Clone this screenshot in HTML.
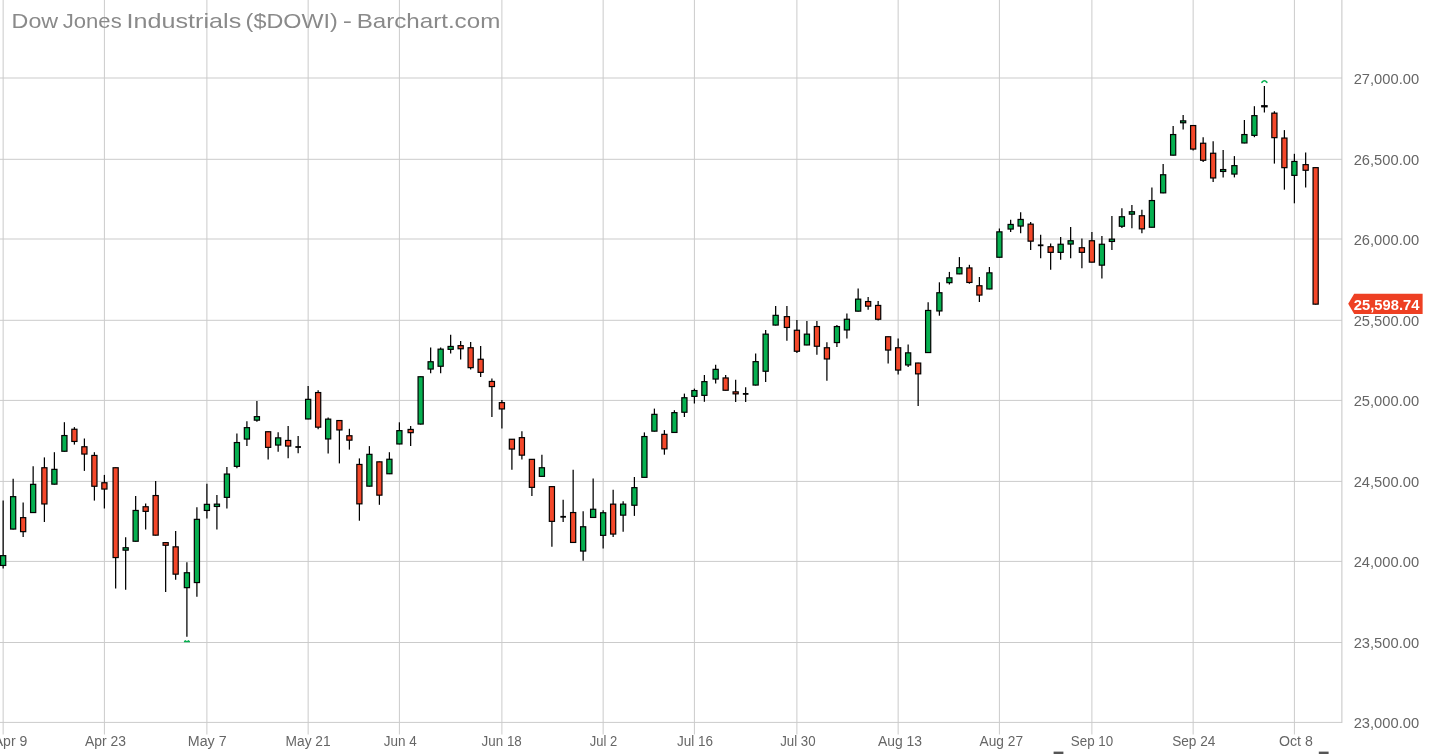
<!DOCTYPE html>
<html lang="en"><head><meta charset="utf-8"><title>Dow Jones Industrials ($DOWI) - Barchart.com</title>
<style>html,body{margin:0;padding:0;background:#fff;overflow:hidden}svg{display:block}text{font-family:"Liberation Sans","DejaVu Sans",sans-serif}</style></head><body>
<svg width="1430" height="754" viewBox="0 0 1430 754">
<rect width="1430" height="754" fill="#fff"/>
<g stroke="#cbcbcb" stroke-width="1" fill="none">
<line x1="0" y1="78.0" x2="1341.9" y2="78.0"/>
<line x1="0" y1="159.3" x2="1341.9" y2="159.3"/>
<line x1="0" y1="239.0" x2="1341.9" y2="239.0"/>
<line x1="0" y1="320.3" x2="1341.9" y2="320.3"/>
<line x1="0" y1="400.4" x2="1341.9" y2="400.4"/>
<line x1="0" y1="481.4" x2="1341.9" y2="481.4"/>
<line x1="0" y1="561.4" x2="1341.9" y2="561.4"/>
<line x1="0" y1="642.5" x2="1341.9" y2="642.5"/>
<line x1="0" y1="722.4" x2="1341.9" y2="722.4"/>
<line x1="3.15" y1="0" x2="3.15" y2="734.5"/>
<line x1="104.4" y1="0" x2="104.4" y2="734.5"/>
<line x1="206.9" y1="0" x2="206.9" y2="734.5"/>
<line x1="308.15" y1="0" x2="308.15" y2="734.5"/>
<line x1="399.4" y1="0" x2="399.4" y2="734.5"/>
<line x1="501.9" y1="0" x2="501.9" y2="734.5"/>
<line x1="603.15" y1="0" x2="603.15" y2="734.5"/>
<line x1="694.4" y1="0" x2="694.4" y2="734.5"/>
<line x1="796.9" y1="0" x2="796.9" y2="734.5"/>
<line x1="898.15" y1="0" x2="898.15" y2="734.5"/>
<line x1="999.4" y1="0" x2="999.4" y2="734.5"/>
<line x1="1091.9" y1="0" x2="1091.9" y2="734.5"/>
<line x1="1193.15" y1="0" x2="1193.15" y2="734.5"/>
<line x1="1294.4" y1="0" x2="1294.4" y2="734.5"/>
<line x1="1341.9" y1="0" x2="1341.9" y2="722.9" stroke="#c4c4c4"/>
</g>
<g font-size="21" fill="#8a8a8a">
<text x="11.61" y="28.3" textLength="46.58" lengthAdjust="spacingAndGlyphs">Dow</text>
<text x="62.70" y="28.3" textLength="59.02" lengthAdjust="spacingAndGlyphs">Jones</text>
<text x="126.62" y="28.3" textLength="114.60" lengthAdjust="spacingAndGlyphs">Industrials</text>
<text x="245.62" y="28.3" textLength="92.16" lengthAdjust="spacingAndGlyphs">($DOWI)</text>
<text x="342.78" y="28.3" textLength="9.21" lengthAdjust="spacingAndGlyphs">-</text>
<text x="356.65" y="28.3" textLength="143.61" lengthAdjust="spacingAndGlyphs">Barchart.com</text>
</g>
<g stroke="#000" stroke-width="1.2">
<line x1="3.15" y1="500.6" x2="3.15" y2="568.4" stroke-width="1.25"/>
<rect x="0.57" y="555.65" width="5.16" height="9.8" fill="#06b050"/>
<line x1="13.15" y1="478.8" x2="13.15" y2="529.4" stroke-width="1.25"/>
<rect x="10.57" y="496.65" width="5.16" height="32.4" fill="#06b050"/>
<line x1="23.15" y1="502.4" x2="23.15" y2="536.9" stroke-width="1.25"/>
<rect x="20.57" y="517.65" width="5.16" height="14.0" fill="#f4482a"/>
<line x1="33.15" y1="466.2" x2="33.15" y2="512.9" stroke-width="1.25"/>
<rect x="30.57" y="484.35" width="5.16" height="28.2" fill="#06b050"/>
<line x1="44.40" y1="457.4" x2="44.40" y2="522.0" stroke-width="1.25"/>
<rect x="41.82" y="467.75" width="5.16" height="36.2" fill="#f4482a"/>
<line x1="54.40" y1="452.2" x2="54.40" y2="484.5" stroke-width="1.25"/>
<rect x="51.82" y="469.35" width="5.16" height="14.8" fill="#06b050"/>
<line x1="64.40" y1="422.2" x2="64.40" y2="451.6" stroke-width="1.25"/>
<rect x="61.82" y="435.55" width="5.16" height="15.7" fill="#06b050"/>
<line x1="74.40" y1="427.1" x2="74.40" y2="444.6" stroke-width="1.25"/>
<rect x="71.82" y="429.25" width="5.16" height="12.2" fill="#f4482a"/>
<line x1="84.40" y1="438.5" x2="84.40" y2="470.9" stroke-width="1.25"/>
<rect x="81.82" y="446.75" width="5.16" height="7.3" fill="#f4482a"/>
<line x1="94.40" y1="452.2" x2="94.40" y2="500.6" stroke-width="1.25"/>
<rect x="91.82" y="455.45" width="5.16" height="30.8" fill="#f4482a"/>
<line x1="104.40" y1="474.9" x2="104.40" y2="508.5" stroke-width="1.25"/>
<rect x="101.82" y="482.75" width="5.16" height="6.3" fill="#f4482a"/>
<line x1="115.65" y1="467.4" x2="115.65" y2="588.5" stroke-width="1.25"/>
<rect x="113.07" y="467.75" width="5.16" height="89.8" fill="#f4482a"/>
<line x1="125.65" y1="537.2" x2="125.65" y2="589.8" stroke-width="1.25"/>
<rect x="123.07" y="547.75" width="5.16" height="2.4" fill="#06b050"/>
<line x1="135.65" y1="495.9" x2="135.65" y2="541.6" stroke-width="1.25"/>
<rect x="133.07" y="510.45" width="5.16" height="30.8" fill="#06b050"/>
<line x1="145.65" y1="503.4" x2="145.65" y2="529.5" stroke-width="1.25"/>
<rect x="143.07" y="506.75" width="5.16" height="4.6" fill="#f4482a"/>
<line x1="155.65" y1="481.0" x2="155.65" y2="535.5" stroke-width="1.25"/>
<rect x="153.07" y="495.55" width="5.16" height="39.6" fill="#f4482a"/>
<line x1="165.65" y1="542.3" x2="165.65" y2="592.0" stroke-width="1.25"/>
<rect x="163.07" y="542.65" width="5.16" height="2.6" fill="#f4482a"/>
<line x1="175.65" y1="531.1" x2="175.65" y2="579.8" stroke-width="1.25"/>
<rect x="173.07" y="546.85" width="5.16" height="27.3" fill="#f4482a"/>
<line x1="186.90" y1="562.3" x2="186.90" y2="636.7" stroke-width="1.25"/>
<rect x="184.32" y="572.75" width="5.16" height="14.9" fill="#06b050"/>
<line x1="196.90" y1="507.3" x2="196.90" y2="596.8" stroke-width="1.25"/>
<rect x="194.32" y="519.35" width="5.16" height="63.2" fill="#06b050"/>
<line x1="206.90" y1="483.7" x2="206.90" y2="518.5" stroke-width="1.25"/>
<rect x="204.32" y="504.35" width="5.16" height="6.1" fill="#06b050"/>
<line x1="216.90" y1="495.0" x2="216.90" y2="529.5" stroke-width="1.25"/>
<rect x="214.32" y="504.15" width="5.16" height="2.3" fill="#06b050"/>
<line x1="226.90" y1="467.0" x2="226.90" y2="508.5" stroke-width="1.25"/>
<rect x="224.32" y="474.05" width="5.16" height="23.3" fill="#06b050"/>
<line x1="236.90" y1="433.4" x2="236.90" y2="468.3" stroke-width="1.25"/>
<rect x="234.32" y="442.55" width="5.16" height="23.8" fill="#06b050"/>
<line x1="246.90" y1="421.2" x2="246.90" y2="446.0" stroke-width="1.25"/>
<rect x="244.32" y="427.65" width="5.16" height="11.4" fill="#06b050"/>
<line x1="256.90" y1="400.9" x2="256.90" y2="421.8" stroke-width="1.25"/>
<rect x="254.32" y="416.65" width="5.16" height="3.5" fill="#06b050"/>
<line x1="268.15" y1="431.4" x2="268.15" y2="459.6" stroke-width="1.25"/>
<rect x="265.57" y="431.75" width="5.16" height="15.6" fill="#f4482a"/>
<line x1="278.15" y1="432.3" x2="278.15" y2="451.7" stroke-width="1.25"/>
<rect x="275.57" y="437.85" width="5.16" height="7.2" fill="#06b050"/>
<line x1="288.15" y1="426.1" x2="288.15" y2="458.3" stroke-width="1.25"/>
<rect x="285.57" y="440.45" width="5.16" height="5.6" fill="#f4482a"/>
<line x1="298.15" y1="436.1" x2="298.15" y2="453.3" stroke-width="1.25"/>
<rect x="295.35" y="446.1" width="5.6" height="1.8" fill="#000" stroke="none"/>
<line x1="308.15" y1="386.0" x2="308.15" y2="419.3" stroke-width="1.25"/>
<rect x="305.57" y="399.35" width="5.16" height="19.6" fill="#06b050"/>
<line x1="318.15" y1="390.2" x2="318.15" y2="429.3" stroke-width="1.25"/>
<rect x="315.57" y="392.55" width="5.16" height="34.6" fill="#f4482a"/>
<line x1="328.15" y1="417.4" x2="328.15" y2="453.4" stroke-width="1.25"/>
<rect x="325.57" y="419.15" width="5.16" height="19.8" fill="#06b050"/>
<line x1="339.40" y1="420.2" x2="339.40" y2="463.4" stroke-width="1.25"/>
<rect x="336.82" y="420.55" width="5.16" height="9.4" fill="#f4482a"/>
<line x1="349.40" y1="428.8" x2="349.40" y2="449.6" stroke-width="1.25"/>
<rect x="346.82" y="435.75" width="5.16" height="4.4" fill="#f4482a"/>
<line x1="359.40" y1="458.4" x2="359.40" y2="520.7" stroke-width="1.25"/>
<rect x="356.82" y="464.45" width="5.16" height="39.4" fill="#f4482a"/>
<line x1="369.40" y1="446.1" x2="369.40" y2="486.5" stroke-width="1.25"/>
<rect x="366.82" y="454.35" width="5.16" height="31.8" fill="#06b050"/>
<line x1="379.40" y1="461.5" x2="379.40" y2="504.8" stroke-width="1.25"/>
<rect x="376.82" y="461.85" width="5.16" height="33.3" fill="#f4482a"/>
<line x1="389.40" y1="452.2" x2="389.40" y2="474.1" stroke-width="1.25"/>
<rect x="386.82" y="459.25" width="5.16" height="14.5" fill="#06b050"/>
<line x1="399.40" y1="422.3" x2="399.40" y2="444.3" stroke-width="1.25"/>
<rect x="396.82" y="430.65" width="5.16" height="13.3" fill="#06b050"/>
<line x1="410.65" y1="426.1" x2="410.65" y2="445.9" stroke-width="1.25"/>
<rect x="408.07" y="429.45" width="5.16" height="3.2" fill="#f4482a"/>
<line x1="420.65" y1="376.4" x2="420.65" y2="424.4" stroke-width="1.25"/>
<rect x="418.07" y="376.75" width="5.16" height="47.3" fill="#06b050"/>
<line x1="430.65" y1="347.4" x2="430.65" y2="373.3" stroke-width="1.25"/>
<rect x="428.07" y="361.75" width="5.16" height="7.3" fill="#06b050"/>
<line x1="440.65" y1="347.4" x2="440.65" y2="373.3" stroke-width="1.25"/>
<rect x="438.07" y="349.15" width="5.16" height="17.1" fill="#06b050"/>
<line x1="450.65" y1="334.8" x2="450.65" y2="353.5" stroke-width="1.25"/>
<rect x="448.07" y="346.45" width="5.16" height="2.9" fill="#06b050"/>
<line x1="460.65" y1="340.9" x2="460.65" y2="359.6" stroke-width="1.25"/>
<rect x="458.07" y="345.65" width="5.16" height="3.1" fill="#f4482a"/>
<line x1="470.65" y1="342.1" x2="470.65" y2="369.4" stroke-width="1.25"/>
<rect x="468.07" y="347.75" width="5.16" height="19.9" fill="#f4482a"/>
<line x1="480.65" y1="346.1" x2="480.65" y2="377.1" stroke-width="1.25"/>
<rect x="478.07" y="359.25" width="5.16" height="13.1" fill="#f4482a"/>
<line x1="491.90" y1="378.5" x2="491.90" y2="417.0" stroke-width="1.25"/>
<rect x="489.32" y="381.45" width="5.16" height="5.1" fill="#f4482a"/>
<line x1="501.90" y1="400.0" x2="501.90" y2="428.4" stroke-width="1.25"/>
<rect x="499.32" y="402.65" width="5.16" height="6.3" fill="#f4482a"/>
<line x1="511.90" y1="438.9" x2="511.90" y2="469.7" stroke-width="1.25"/>
<rect x="509.32" y="439.25" width="5.16" height="9.8" fill="#f4482a"/>
<line x1="521.90" y1="431.2" x2="521.90" y2="459.6" stroke-width="1.25"/>
<rect x="519.32" y="437.65" width="5.16" height="17.5" fill="#f4482a"/>
<line x1="531.90" y1="459.0" x2="531.90" y2="495.9" stroke-width="1.25"/>
<rect x="529.32" y="459.35" width="5.16" height="28.0" fill="#f4482a"/>
<line x1="541.90" y1="454.8" x2="541.90" y2="476.7" stroke-width="1.25"/>
<rect x="539.32" y="467.75" width="5.16" height="8.6" fill="#06b050"/>
<line x1="551.90" y1="486.3" x2="551.90" y2="546.7" stroke-width="1.25"/>
<rect x="549.32" y="486.65" width="5.16" height="34.7" fill="#f4482a"/>
<line x1="563.15" y1="499.8" x2="563.15" y2="522.0" stroke-width="1.25"/>
<rect x="560.35" y="515.9" width="5.6" height="1.8" fill="#000" stroke="none"/>
<line x1="573.15" y1="469.8" x2="573.15" y2="542.8" stroke-width="1.25"/>
<rect x="570.57" y="512.55" width="5.16" height="29.9" fill="#f4482a"/>
<line x1="583.15" y1="511.2" x2="583.15" y2="560.7" stroke-width="1.25"/>
<rect x="580.57" y="526.75" width="5.16" height="24.3" fill="#06b050"/>
<line x1="593.15" y1="478.4" x2="593.15" y2="517.8" stroke-width="1.25"/>
<rect x="590.57" y="509.25" width="5.16" height="8.2" fill="#06b050"/>
<line x1="603.15" y1="510.3" x2="603.15" y2="548.4" stroke-width="1.25"/>
<rect x="600.57" y="512.75" width="5.16" height="22.6" fill="#06b050"/>
<line x1="613.15" y1="489.8" x2="613.15" y2="536.9" stroke-width="1.25"/>
<rect x="610.57" y="504.15" width="5.16" height="29.9" fill="#f4482a"/>
<line x1="623.15" y1="501.2" x2="623.15" y2="531.8" stroke-width="1.25"/>
<rect x="620.57" y="504.15" width="5.16" height="11.0" fill="#06b050"/>
<line x1="634.40" y1="477.0" x2="634.40" y2="515.9" stroke-width="1.25"/>
<rect x="631.82" y="487.65" width="5.16" height="17.6" fill="#06b050"/>
<line x1="644.40" y1="432.4" x2="644.40" y2="477.7" stroke-width="1.25"/>
<rect x="641.82" y="436.55" width="5.16" height="40.8" fill="#06b050"/>
<line x1="654.40" y1="408.6" x2="654.40" y2="431.5" stroke-width="1.25"/>
<rect x="651.82" y="414.35" width="5.16" height="16.8" fill="#06b050"/>
<line x1="664.40" y1="430.1" x2="664.40" y2="454.7" stroke-width="1.25"/>
<rect x="661.82" y="434.35" width="5.16" height="14.5" fill="#f4482a"/>
<line x1="674.40" y1="410.2" x2="674.40" y2="432.8" stroke-width="1.25"/>
<rect x="671.82" y="412.65" width="5.16" height="19.8" fill="#06b050"/>
<line x1="684.40" y1="393.6" x2="684.40" y2="417.0" stroke-width="1.25"/>
<rect x="681.82" y="397.75" width="5.16" height="14.5" fill="#06b050"/>
<line x1="694.40" y1="388.6" x2="694.40" y2="403.5" stroke-width="1.25"/>
<rect x="691.82" y="390.55" width="5.16" height="5.8" fill="#06b050"/>
<line x1="704.40" y1="375.0" x2="704.40" y2="401.8" stroke-width="1.25"/>
<rect x="701.82" y="381.65" width="5.16" height="13.7" fill="#06b050"/>
<line x1="715.65" y1="364.7" x2="715.65" y2="383.4" stroke-width="1.25"/>
<rect x="713.07" y="369.35" width="5.16" height="9.7" fill="#06b050"/>
<line x1="725.65" y1="375.0" x2="725.65" y2="390.6" stroke-width="1.25"/>
<rect x="723.07" y="377.95" width="5.16" height="12.3" fill="#f4482a"/>
<line x1="735.65" y1="379.8" x2="735.65" y2="402.0" stroke-width="1.25"/>
<rect x="733.07" y="391.85" width="5.16" height="2.0" fill="#f4482a"/>
<line x1="745.65" y1="387.2" x2="745.65" y2="402.0" stroke-width="1.25"/>
<rect x="742.85" y="393.0" width="5.6" height="1.8" fill="#000" stroke="none"/>
<line x1="755.65" y1="353.6" x2="755.65" y2="385.4" stroke-width="1.25"/>
<rect x="753.07" y="361.65" width="5.16" height="23.4" fill="#06b050"/>
<line x1="765.65" y1="329.9" x2="765.65" y2="382.1" stroke-width="1.25"/>
<rect x="763.07" y="334.15" width="5.16" height="37.1" fill="#06b050"/>
<line x1="775.65" y1="305.9" x2="775.65" y2="325.4" stroke-width="1.25"/>
<rect x="773.07" y="315.35" width="5.16" height="9.7" fill="#06b050"/>
<line x1="786.90" y1="305.9" x2="786.90" y2="340.8" stroke-width="1.25"/>
<rect x="784.32" y="316.65" width="5.16" height="10.8" fill="#f4482a"/>
<line x1="796.90" y1="320.1" x2="796.90" y2="353.0" stroke-width="1.25"/>
<rect x="794.32" y="330.25" width="5.16" height="21.0" fill="#f4482a"/>
<line x1="806.90" y1="321.0" x2="806.90" y2="345.3" stroke-width="1.25"/>
<rect x="804.32" y="334.15" width="5.16" height="10.8" fill="#06b050"/>
<line x1="816.90" y1="321.0" x2="816.90" y2="354.8" stroke-width="1.25"/>
<rect x="814.32" y="326.55" width="5.16" height="19.7" fill="#f4482a"/>
<line x1="826.90" y1="342.2" x2="826.90" y2="380.7" stroke-width="1.25"/>
<rect x="824.32" y="347.75" width="5.16" height="11.2" fill="#f4482a"/>
<line x1="836.90" y1="325.0" x2="836.90" y2="347.1" stroke-width="1.25"/>
<rect x="834.32" y="326.55" width="5.16" height="16.0" fill="#06b050"/>
<line x1="846.90" y1="313.5" x2="846.90" y2="338.5" stroke-width="1.25"/>
<rect x="844.32" y="319.25" width="5.16" height="10.7" fill="#06b050"/>
<line x1="858.15" y1="288.4" x2="858.15" y2="311.5" stroke-width="1.25"/>
<rect x="855.57" y="299.15" width="5.16" height="12.0" fill="#06b050"/>
<line x1="868.15" y1="297.0" x2="868.15" y2="309.8" stroke-width="1.25"/>
<rect x="865.57" y="301.55" width="5.16" height="4.6" fill="#f4482a"/>
<line x1="878.15" y1="300.9" x2="878.15" y2="320.6" stroke-width="1.25"/>
<rect x="875.57" y="305.45" width="5.16" height="13.8" fill="#f4482a"/>
<line x1="888.15" y1="336.4" x2="888.15" y2="363.4" stroke-width="1.25"/>
<rect x="885.57" y="336.75" width="5.16" height="13.3" fill="#f4482a"/>
<line x1="898.15" y1="338.5" x2="898.15" y2="374.6" stroke-width="1.25"/>
<rect x="895.57" y="347.75" width="5.16" height="22.3" fill="#f4482a"/>
<line x1="908.15" y1="344.6" x2="908.15" y2="367.0" stroke-width="1.25"/>
<rect x="905.57" y="352.85" width="5.16" height="12.1" fill="#06b050"/>
<line x1="918.15" y1="362.7" x2="918.15" y2="405.9" stroke-width="1.25"/>
<rect x="915.57" y="363.05" width="5.16" height="10.8" fill="#f4482a"/>
<line x1="928.15" y1="302.3" x2="928.15" y2="352.9" stroke-width="1.25"/>
<rect x="925.57" y="310.45" width="5.16" height="42.1" fill="#06b050"/>
<line x1="939.40" y1="282.3" x2="939.40" y2="315.7" stroke-width="1.25"/>
<rect x="936.82" y="292.75" width="5.16" height="18.2" fill="#06b050"/>
<line x1="949.40" y1="271.9" x2="949.40" y2="284.5" stroke-width="1.25"/>
<rect x="946.82" y="277.85" width="5.16" height="4.8" fill="#06b050"/>
<line x1="959.40" y1="257.1" x2="959.40" y2="274.2" stroke-width="1.25"/>
<rect x="956.82" y="267.75" width="5.16" height="6.1" fill="#06b050"/>
<line x1="969.40" y1="264.8" x2="969.40" y2="283.7" stroke-width="1.25"/>
<rect x="966.82" y="267.95" width="5.16" height="14.5" fill="#f4482a"/>
<line x1="979.40" y1="277.0" x2="979.40" y2="302.0" stroke-width="1.25"/>
<rect x="976.82" y="285.75" width="5.16" height="9.3" fill="#f4482a"/>
<line x1="989.40" y1="267.0" x2="989.40" y2="289.3" stroke-width="1.25"/>
<rect x="986.82" y="272.85" width="5.16" height="16.1" fill="#06b050"/>
<line x1="999.40" y1="228.5" x2="999.40" y2="257.6" stroke-width="1.25"/>
<rect x="996.82" y="231.85" width="5.16" height="25.4" fill="#06b050"/>
<line x1="1010.65" y1="219.8" x2="1010.65" y2="232.0" stroke-width="1.25"/>
<rect x="1008.07" y="224.45" width="5.16" height="4.6" fill="#06b050"/>
<line x1="1020.65" y1="212.2" x2="1020.65" y2="233.2" stroke-width="1.25"/>
<rect x="1018.07" y="219.45" width="5.16" height="6.6" fill="#06b050"/>
<line x1="1030.65" y1="222.0" x2="1030.65" y2="249.9" stroke-width="1.25"/>
<rect x="1028.07" y="224.15" width="5.16" height="17.0" fill="#f4482a"/>
<line x1="1040.65" y1="234.8" x2="1040.65" y2="258.3" stroke-width="1.25"/>
<rect x="1037.85" y="244.4" width="5.6" height="1.8" fill="#000" stroke="none"/>
<line x1="1050.65" y1="243.4" x2="1050.65" y2="269.7" stroke-width="1.25"/>
<rect x="1048.07" y="246.75" width="5.16" height="5.6" fill="#f4482a"/>
<line x1="1060.65" y1="236.9" x2="1060.65" y2="259.7" stroke-width="1.25"/>
<rect x="1058.07" y="244.25" width="5.16" height="8.1" fill="#06b050"/>
<line x1="1070.65" y1="227.1" x2="1070.65" y2="258.3" stroke-width="1.25"/>
<rect x="1068.07" y="240.75" width="5.16" height="3.3" fill="#06b050"/>
<line x1="1081.90" y1="238.5" x2="1081.90" y2="268.3" stroke-width="1.25"/>
<rect x="1079.32" y="247.75" width="5.16" height="4.6" fill="#f4482a"/>
<line x1="1091.90" y1="232.0" x2="1091.90" y2="262.5" stroke-width="1.25"/>
<rect x="1089.32" y="240.75" width="5.16" height="21.4" fill="#f4482a"/>
<line x1="1101.90" y1="236.0" x2="1101.90" y2="278.4" stroke-width="1.25"/>
<rect x="1099.32" y="244.25" width="5.16" height="20.9" fill="#06b050"/>
<line x1="1111.90" y1="215.9" x2="1111.90" y2="249.9" stroke-width="1.25"/>
<rect x="1109.32" y="239.15" width="5.16" height="2.3" fill="#06b050"/>
<line x1="1121.90" y1="208.2" x2="1121.90" y2="228.0" stroke-width="1.25"/>
<rect x="1119.32" y="216.75" width="5.16" height="9.5" fill="#06b050"/>
<line x1="1131.90" y1="204.9" x2="1131.90" y2="228.2" stroke-width="1.25"/>
<rect x="1129.32" y="211.75" width="5.16" height="2.4" fill="#06b050"/>
<line x1="1141.90" y1="209.8" x2="1141.90" y2="233.2" stroke-width="1.25"/>
<rect x="1139.32" y="215.75" width="5.16" height="13.1" fill="#f4482a"/>
<line x1="1151.90" y1="187.6" x2="1151.90" y2="227.6" stroke-width="1.25"/>
<rect x="1149.32" y="200.55" width="5.16" height="26.7" fill="#06b050"/>
<line x1="1163.15" y1="163.9" x2="1163.15" y2="193.2" stroke-width="1.25"/>
<rect x="1160.57" y="174.75" width="5.16" height="18.1" fill="#06b050"/>
<line x1="1173.15" y1="126.1" x2="1173.15" y2="155.5" stroke-width="1.25"/>
<rect x="1170.57" y="134.55" width="5.16" height="20.6" fill="#06b050"/>
<line x1="1183.15" y1="114.9" x2="1183.15" y2="129.6" stroke-width="1.25"/>
<rect x="1180.57" y="120.85" width="5.16" height="1.9" fill="#06b050"/>
<line x1="1193.15" y1="125.2" x2="1193.15" y2="150.6" stroke-width="1.25"/>
<rect x="1190.57" y="125.55" width="5.16" height="23.5" fill="#f4482a"/>
<line x1="1203.15" y1="137.2" x2="1203.15" y2="162.0" stroke-width="1.25"/>
<rect x="1200.57" y="143.25" width="5.16" height="17.0" fill="#f4482a"/>
<line x1="1213.15" y1="141.2" x2="1213.15" y2="182.1" stroke-width="1.25"/>
<rect x="1210.57" y="153.25" width="5.16" height="24.7" fill="#f4482a"/>
<line x1="1223.15" y1="149.9" x2="1223.15" y2="177.4" stroke-width="1.25"/>
<rect x="1220.57" y="169.55" width="5.16" height="1.9" fill="#06b050"/>
<line x1="1234.40" y1="156.1" x2="1234.40" y2="177.4" stroke-width="1.25"/>
<rect x="1231.82" y="165.65" width="5.16" height="8.4" fill="#06b050"/>
<line x1="1244.40" y1="120.0" x2="1244.40" y2="143.3" stroke-width="1.25"/>
<rect x="1241.82" y="134.55" width="5.16" height="8.4" fill="#06b050"/>
<line x1="1254.40" y1="106.2" x2="1254.40" y2="137.2" stroke-width="1.25"/>
<rect x="1251.82" y="115.65" width="5.16" height="19.7" fill="#06b050"/>
<line x1="1264.40" y1="86.0" x2="1264.40" y2="112.5" stroke-width="1.25"/>
<rect x="1261.10" y="105.1" width="6.6" height="2.3" fill="#000" stroke="none"/>
<line x1="1274.40" y1="111.2" x2="1274.40" y2="163.6" stroke-width="1.25"/>
<rect x="1271.82" y="113.15" width="5.16" height="24.5" fill="#f4482a"/>
<line x1="1284.40" y1="130.1" x2="1284.40" y2="189.7" stroke-width="1.25"/>
<rect x="1281.82" y="138.05" width="5.16" height="29.6" fill="#f4482a"/>
<line x1="1294.40" y1="153.8" x2="1294.40" y2="203.3" stroke-width="1.25"/>
<rect x="1291.82" y="161.45" width="5.16" height="13.9" fill="#06b050"/>
<line x1="1305.65" y1="152.4" x2="1305.65" y2="187.4" stroke-width="1.25"/>
<rect x="1303.07" y="164.65" width="5.16" height="5.6" fill="#f4482a"/>
<line x1="1315.65" y1="167.3" x2="1315.65" y2="304.5" stroke-width="1.25"/>
<rect x="1313.07" y="167.65" width="5.16" height="136.5" fill="#f4482a"/>
</g>
<path d="M1262.0,82.3 Q1264.4,79.2 1266.8,82.3" fill="none" stroke="#06b050" stroke-width="1.7" stroke-linecap="round"/>
<path d="M183.9,642.3 L183.9,641.2 L185.1,640.1 L186.9,641.0 L188.6,640.1 L190,641.2 L190,642.3 Z" fill="#06b050"/>
<g font-size="14.6" fill="#666">
<text x="1353.7" y="84" textLength="65.4" lengthAdjust="spacingAndGlyphs">27,000.00</text>
<text x="1353.7" y="165" textLength="65.4" lengthAdjust="spacingAndGlyphs">26,500.00</text>
<text x="1353.7" y="245" textLength="65.4" lengthAdjust="spacingAndGlyphs">26,000.00</text>
<text x="1353.7" y="326" textLength="65.4" lengthAdjust="spacingAndGlyphs">25,500.00</text>
<text x="1353.7" y="406" textLength="65.4" lengthAdjust="spacingAndGlyphs">25,000.00</text>
<text x="1353.7" y="487" textLength="65.4" lengthAdjust="spacingAndGlyphs">24,500.00</text>
<text x="1353.7" y="567" textLength="65.4" lengthAdjust="spacingAndGlyphs">24,000.00</text>
<text x="1353.7" y="648" textLength="65.4" lengthAdjust="spacingAndGlyphs">23,500.00</text>
<text x="1353.7" y="728" textLength="65.4" lengthAdjust="spacingAndGlyphs">23,000.00</text>
</g>
<g font-size="14" fill="#666" text-anchor="middle">
<text x="27.3" y="746.2" text-anchor="end" textLength="33.6" lengthAdjust="spacingAndGlyphs">Apr 9</text>
<text x="105.50" y="746.2" textLength="40.99" lengthAdjust="spacingAndGlyphs">Apr 23</text>
<text x="207.20" y="746.2" textLength="38.85" lengthAdjust="spacingAndGlyphs">May 7</text>
<text x="308.10" y="746.2" textLength="45.02" lengthAdjust="spacingAndGlyphs">May 21</text>
<text x="400.30" y="746.2" textLength="33.02" lengthAdjust="spacingAndGlyphs">Jun 4</text>
<text x="501.70" y="746.2" textLength="40.21" lengthAdjust="spacingAndGlyphs">Jun 18</text>
<text x="603.50" y="746.2" textLength="27.43" lengthAdjust="spacingAndGlyphs">Jul 2</text>
<text x="695.00" y="746.2" textLength="36.05" lengthAdjust="spacingAndGlyphs">Jul 16</text>
<text x="797.90" y="746.2" textLength="35.44" lengthAdjust="spacingAndGlyphs">Jul 30</text>
<text x="900.00" y="746.2" textLength="44.01" lengthAdjust="spacingAndGlyphs">Aug 13</text>
<text x="1001.30" y="746.2" textLength="43.40" lengthAdjust="spacingAndGlyphs">Aug 27</text>
<text x="1092.00" y="746.2" textLength="42.42" lengthAdjust="spacingAndGlyphs">Sep 10</text>
<text x="1193.80" y="746.2" textLength="43.21" lengthAdjust="spacingAndGlyphs">Sep 24</text>
<text x="1295.90" y="746.2" textLength="33.83" lengthAdjust="spacingAndGlyphs">Oct 8</text>
</g>
<path d="M1348.2,303.8 L1354.2,293.8 L1422.6,293.8 L1422.6,314 L1354.2,314 Z" fill="#ee4023"/>
<text x="1353.8" y="310" font-size="15.4" font-weight="bold" fill="#fff" textLength="65.6" lengthAdjust="spacingAndGlyphs">25,598.74</text>
<rect x="1053.6" y="751.6" width="9.8" height="3" fill="#555"/>
<rect x="1318.8" y="751.6" width="9.8" height="3" fill="#555"/>
</svg></body></html>
